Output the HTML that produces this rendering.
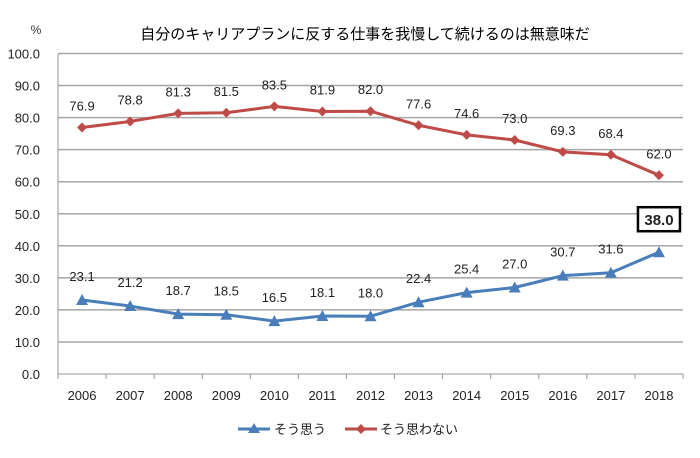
<!DOCTYPE html>
<html><head><meta charset="utf-8"><style>
body{margin:0;background:#fff;font-family:"Liberation Sans","Noto Sans CJK JP",sans-serif}
svg text{font-family:"Liberation Sans","Noto Sans CJK JP",sans-serif}
</style></head><body>
<svg width="700" height="453">
<rect width="700" height="453" fill="#fff"/>
<text x="365" y="39" font-size="15" text-anchor="middle" fill="#000">自分のキャリアプランに反する仕事を我慢して続けるのは無意味だ</text>
<text x="36" y="34" font-size="12" text-anchor="middle" fill="#333">%</text>
<g id="grid"></g><g id="lines"></g>
<g>
<g><line x1="238" y1429="429" y1="429" x2="270" y2="429" stroke="#4a7ebb" stroke-width="3"/><polygon points="254,423 260,433 248,433" fill="#4a7ebb"/><text x="274" y="434" font-size="13" fill="#222">そう思う</text></g>
<g><line x1="345" y1="429" x2="377" y2="429" stroke="#be4b48" stroke-width="3"/><polygon points="361,424 366,429 361,434 356,429" fill="#be4b48"/><text x="380" y="434" font-size="13" fill="#222">そう思わない</text></g>
</g>
</svg>
<script>
const years=["2006","2007","2008","2009","2010","2011","2012","2013","2014","2015","2016","2017","2018"];
const yesVals=[23.1,21.2,18.7,18.5,16.5,18.1,18.0,22.4,25.4,27.0,30.7,31.6,38.0];
const noVals=[76.9,78.8,81.3,81.5,83.5,81.9,82.0,77.6,74.6,73.0,69.3,68.4,62.0];
const yTicks=[0,10,20,30,40,50,60,70,80,90,100];
const NS="http://www.w3.org/2000/svg";
const L=58,R=683,T=53.5,B=374;
const xs=i=>L+(R-L)/years.length*(i+0.5);
const ys=v=>B-(B-T)*v/100;
function mk(tag,attrs,parent,txt){const e=document.createElementNS(NS,tag);for(const k in attrs)e.setAttribute(k,attrs[k]);if(txt!==undefined)e.textContent=txt;parent.appendChild(e);return e;}
const grid=document.getElementById('grid'),lines=document.getElementById('lines');
yTicks.forEach(t=>{
 const g=mk('line',{x1:L,x2:R,y1:ys(t),y2:ys(t),stroke:t===0?'#999':'#a6a6a6','stroke-width':t===0?1:1.5},grid);
 
 
 const tx=mk('text',{x:40,y:ys(t)+5,'font-size':13,'text-anchor':'end',fill:'#222'},grid,t.toFixed(1));
 
 
});
mk('line',{x1:L,x2:L,y1:T,y2:B,stroke:'#999'},grid);
for(let i=0;i<=years.length;i++){const x=L+(R-L)/years.length*i;mk('line',{x1:x,x2:x,y1:B,y2:B+5,stroke:'#999'},grid);}
years.forEach((y,i)=>{const t=mk('text',{x:xs(i),y:400,'font-size':13,'text-anchor':'middle',fill:'#222'},grid,y);
 
 });
function series(vals,color,name,marker,off){
 const p=mk('polyline',{points:vals.map((v,i)=>xs(i)+','+ys(v)).join(' '),fill:'none',stroke:color,'stroke-width':3},lines);
 
 
 vals.forEach((v,i)=>{
  const x=xs(i),y=ys(v);let m;
  if(marker==='tri')m=mk('polygon',{points:`${x},${y-6} ${x+6},${y+5} ${x-6},${y+5}`,fill:color},lines);
  else m=mk('polygon',{points:`${x},${y-5} ${x+5},${y} ${x},${y+5} ${x-5},${y}`,fill:color},lines);
  
  
  const last=(name==='sou-omou'&&i===vals.length-1);
  if(last){mk('rect',{x:x-21,y:y-45,width:42,height:24,fill:'#fff',stroke:'#000','stroke-width':2.5},lines);}
  const t=mk('text',{x:x,y:last?y-27:y-off,'font-size':last?15:13,'font-weight':last?'bold':'normal','text-anchor':'middle',fill:'#222'},lines,v.toFixed(1));
  
  
 });
}
series(noVals,'#be4b48','sou-omowanai','dia',17);
series(yesVals,'#4a7ebb','sou-omou','tri',19);
</script>
</body></html>
